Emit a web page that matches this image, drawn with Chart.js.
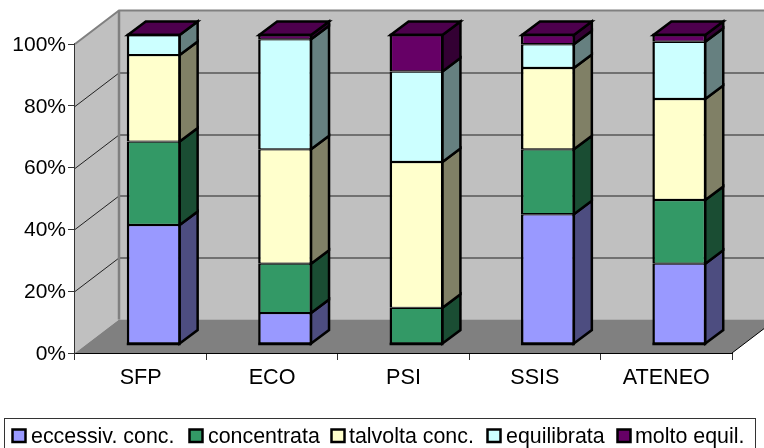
<!DOCTYPE html>
<html><head><meta charset="utf-8">
<style>html,body{margin:0;padding:0;background:#fff}canvas{display:block}</style>
<script src="https://cdn.jsdelivr.net/npm/chart.js@4"></script>
</head><body>
<canvas id="c" width="764" height="448"></canvas>
<script>
const categories = ['SFP','ECO','PSI','SSIS','ATENEO'];
const eccessiv = [38.5, 10, 0, 42, 26];
const concentrata = [27, 16, 11.7, 21, 20.6];
const talvolta = [28, 37, 47.2, 26.3, 32.7];
const equilibrata = [6.5, 35.6, 29.3, 7.7, 18.5];
const molto = [0, 1.4, 11.8, 3, 2.2];
const seriesNames = ['eccessiv. conc.','concentrata','talvolta conc.','equilibrata','molto equil.'];
const seriesValues = [eccessiv, concentrata, talvolta, equilibrata, molto];
const frontColors = ['#9999FF','#339966','#FFFFCC','#CCFFFF','#660066'];
const sideColors = ['#4D4D80','#1A4D33','#808066','#668080','#330033'];
const topColor = '#4D004D';
const yTicks = [0,20,40,60,80,100];
const FONT = '"Liberation Sans", Arial, sans-serif';
const wall = {dx:44, dy:-33.5};
const barOff = {dx:13, dy:-9};
const depth = {dx:18, dy:-13.5};
const legendSwatchX = [11,188,330,486,616];
const legendTextX = [31,208,349,506,635];

const scene = {
  id:'scene',
  beforeDatasetsDraw(chart){
    const {ctx, chartArea:a, scales:{y}} = chart;
    const l=a.left, r=a.right, t=a.top, b=a.bottom;
    ctx.save();
    ctx.fillStyle='#C0C0C0';
    ctx.beginPath();ctx.moveTo(l,b);ctx.lineTo(l,t);ctx.lineTo(l+wall.dx,t+wall.dy);ctx.lineTo(l+wall.dx,b+wall.dy);ctx.closePath();ctx.fill();
    ctx.fillRect(l+wall.dx,t+wall.dy,r-l,b-t);
    ctx.fillStyle='#808080';
    ctx.beginPath();ctx.moveTo(l,b);ctx.lineTo(r,b);ctx.lineTo(r+wall.dx,b+wall.dy);ctx.lineTo(l+wall.dx,b+wall.dy);ctx.closePath();ctx.fill();
    ctx.lineWidth=1;
    yTicks.forEach(v=>{
      if(v===100||v===0) return;
      const py=Math.round(y.getPixelForValue(v))+0.5;
      ctx.strokeStyle='#222';
      ctx.beginPath();ctx.moveTo(l,py);ctx.lineTo(l+wall.dx,py+wall.dy);ctx.lineTo(r+wall.dx,py+wall.dy);ctx.stroke();
    });
    ctx.strokeStyle='#808080';ctx.lineWidth=2;
    ctx.beginPath();ctx.moveTo(l,t);ctx.lineTo(l+wall.dx,t+wall.dy);ctx.lineTo(r+wall.dx,t+wall.dy);ctx.stroke();
    ctx.lineWidth=2.5;
    ctx.beginPath();ctx.moveTo(l+wall.dx,t+wall.dy);ctx.lineTo(l+wall.dx,b+wall.dy);ctx.stroke();
    ctx.strokeStyle='#000';ctx.lineWidth=1;
    ctx.beginPath();ctx.moveTo(r,b);ctx.lineTo(r+wall.dx,b+wall.dy);ctx.stroke();
    ctx.restore();

    ctx.save();
    ctx.translate(barOff.dx,barOff.dy);
    ctx.lineWidth=2.5;ctx.strokeStyle='#000';ctx.lineJoin='miter';
    chart.data.datasets.forEach((ds,di)=>{
      chart.getDatasetMeta(di).data.forEach(el=>{
        if(Math.abs(el.base-el.y)<0.01) return;
        const R=el.x+el.width/2-1;
        ctx.fillStyle=sideColors[di];
        ctx.beginPath();
        ctx.moveTo(R,el.y);ctx.lineTo(R+depth.dx,el.y+depth.dy);ctx.lineTo(R+depth.dx,el.base+depth.dy);ctx.lineTo(R,el.base);ctx.closePath();
        ctx.fill();ctx.stroke();
      });
    });
    const last=chart.getDatasetMeta(chart.data.datasets.length-1);
    last.data.forEach(el=>{
      const L=el.x-el.width/2+1,R=el.x+el.width/2-1,T=y.getPixelForValue(100);
      ctx.fillStyle=topColor;
      ctx.beginPath();
      ctx.moveTo(L,T);ctx.lineTo(R,T);ctx.lineTo(R+depth.dx,T+depth.dy);ctx.lineTo(L+depth.dx,T+depth.dy);ctx.closePath();
      ctx.fill();ctx.stroke();
    });
  },
  afterDatasetsDraw(chart){
    const {ctx, scales:{y}}=chart;
    ctx.lineWidth=2.5;ctx.strokeStyle='#000';
    chart.getDatasetMeta(0).data.forEach(el=>{
      const L=el.x-el.width/2,R=el.x+el.width/2;
      [y.getPixelForValue(100),y.getPixelForValue(0)].forEach(py=>{
        ctx.beginPath();ctx.moveTo(L,py);ctx.lineTo(R,py);ctx.stroke();
      });
    });
    ctx.restore();
  },
  afterDraw(chart){
    const {ctx}=chart;
    ctx.save();
    ctx.strokeStyle='#333';ctx.lineWidth=1;
    ctx.strokeRect(4.5,418.5,751,40);
    ctx.font='21.4px '+FONT;ctx.textBaseline='alphabetic';ctx.textAlign='left';
    seriesNames.forEach((n,i)=>{
      ctx.fillStyle=frontColors[i];
      ctx.fillRect(legendSwatchX[i]+1.5,429.5,13,12.5);
      ctx.strokeStyle='#000';ctx.lineWidth=2.5;
      ctx.strokeRect(legendSwatchX[i]+1.5,429.5,13,12.5);
      ctx.fillStyle='#000';
      ctx.fillText(n,legendTextX[i],443);
    });
    ctx.restore();
  }
};

new Chart(document.getElementById('c'),{
  type:'bar',
  data:{
    labels:categories,
    datasets:seriesNames.map((n,i)=>({
      label:n,data:seriesValues[i],backgroundColor:frontColors[i],borderColor:'#000',
      borderWidth:{left:2.5,right:2.5,top:1.2,bottom:1.2},borderSkipped:false,clip:false,
      barPercentage:0.41,categoryPercentage:1
    }))
  },
  plugins:[scene],
  options:{
    responsive:false,animation:false,
    layout:{padding:{top:44,right:32,left:0,bottom:0}},
    plugins:{legend:{display:false},title:{display:false},tooltip:{enabled:false}},
    scales:{
      x:{
        stacked:true,
        afterFit(s){s.height=95;},
        grid:{drawOnChartArea:false,drawTicks:true,tickLength:7,color:'#333',offset:true},
        border:{color:'#000',width:1},
        ticks:{font:{family:FONT,size:21.6},color:'#000',padding:5,maxRotation:0,autoSkip:false}
      },
      y:{
        stacked:true,min:0,max:100,
        afterFit(s){s.width=75;},
        afterBuildTicks(s){s.ticks=yTicks.map(v=>({value:v}));},
        grid:{drawOnChartArea:false,drawTicks:true,tickLength:7,color:'#333'},
        border:{color:'#333',width:1.5},
        ticks:{font:{family:FONT,size:21},color:'#000',padding:2,labelOffset:1,callback:v=>v+'%'}
      }
    }
  }
});
</script>
</body></html>
